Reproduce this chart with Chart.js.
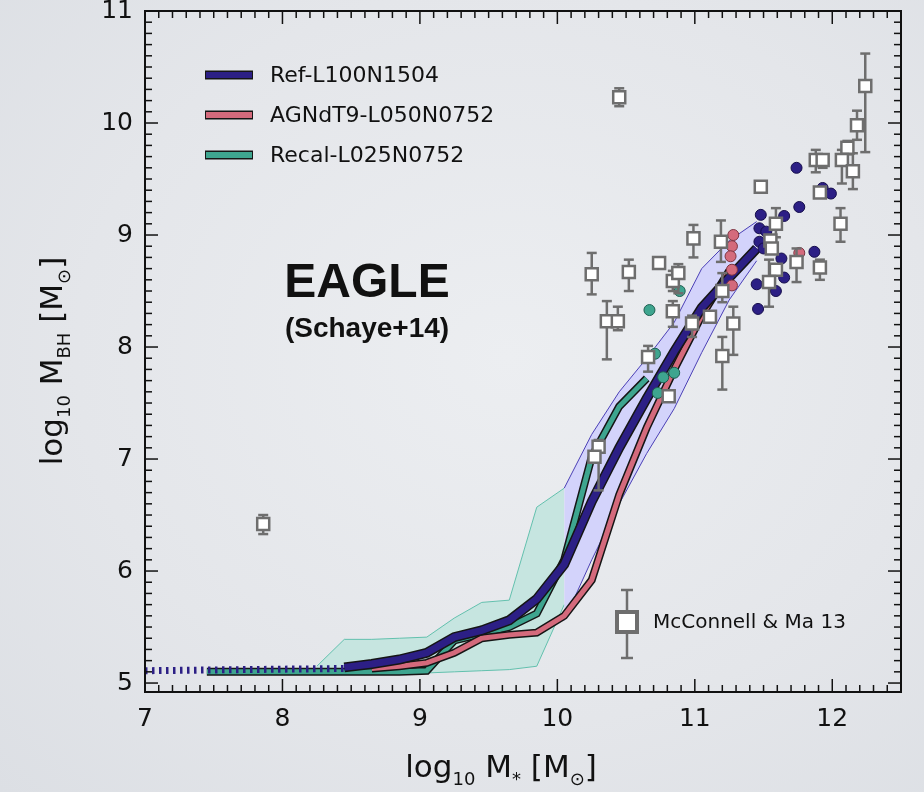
<!DOCTYPE html>
<html>
<head>
<meta charset="utf-8">
<script src="https://cdn.jsdelivr.net/npm/chart.js@4.4.1/dist/chart.umd.min.js"></script>
<style>
    html, body { margin: 0; padding: 0; }
    body { background: radial-gradient(ellipse at 55% 45%, #eceef1 0%, #e4e6ea 60%, #dcdfe4 100%); }
    #wrap { position: relative; width: 924px; height: 792px; }
</style>
</head>
<body>
<div id="wrap"><canvas id="chart" width="924" height="792"></canvas></div>
<script>
// Axis ticks
const xTicks = [7, 8, 9, 10, 11, 12];
const yTicks = [5, 6, 7, 8, 9, 10, 11];

// Ref-L100N1504 median
const refX = [8.45, 8.65, 8.85, 9.05, 9.25, 9.45, 9.65, 9.85, 10.05, 10.25, 10.45, 10.65, 10.85, 11.05, 11.25, 11.45];
const refY = [5.14, 5.17, 5.21, 5.27, 5.41, 5.47, 5.56, 5.75, 6.06, 6.62, 7.10, 7.54, 7.96, 8.35, 8.62, 8.88];
// dotted part below resolution
const refLowX = [7.0, 8.45];
const refLowY = [5.11, 5.13];
// Ref scatter band
const refBandX = [10.05, 10.25, 10.45, 10.65, 10.85, 11.05, 11.25, 11.45];
const refBandHi = [6.74, 7.22, 7.60, 7.90, 8.22, 8.70, 8.95, 9.12];
const refBandLo = [5.56, 6.10, 6.60, 7.05, 7.45, 7.95, 8.42, 8.77];

// AGNdT9-L050N0752 median
const agnX = [8.65, 8.85, 9.05, 9.25, 9.45, 9.65, 9.85, 10.05, 10.25, 10.45, 10.65, 10.85, 11.05, 11.25];
const agnY = [5.13, 5.15, 5.18, 5.27, 5.40, 5.43, 5.45, 5.60, 5.92, 6.68, 7.28, 7.80, 8.28, 8.68];

// Recal-L025N0752 median + band
const recalX = [7.45, 7.65, 7.85, 8.05, 8.25, 8.45, 8.65, 8.85, 9.05, 9.25, 9.45, 9.65, 9.85, 10.05, 10.25, 10.45, 10.65];
const recalY = [5.10, 5.10, 5.10, 5.10, 5.10, 5.10, 5.10, 5.10, 5.11, 5.38, 5.44, 5.50, 5.62, 6.10, 7.02, 7.47, 7.72];
const recalBandX = [8.25, 8.45, 8.65, 8.85, 9.05, 9.25, 9.45, 9.65, 9.85, 10.05];
const recalBandHi = [5.15, 5.39, 5.39, 5.40, 5.41, 5.58, 5.72, 5.74, 6.57, 6.74];
const recalBandLo = [5.12, 5.10, 5.09, 5.09, 5.09, 5.10, 5.11, 5.12, 5.15, 5.70];

// individual galaxies
const refDotX = [11.74, 11.93, 11.99, 11.76, 11.48, 11.65, 11.47, 11.52, 11.47, 11.50, 11.63, 11.87, 11.65, 11.45, 11.59, 11.46];
const refDotY = [9.60, 9.42, 9.37, 9.25, 9.18, 9.17, 9.06, 9.03, 8.94, 8.88, 8.79, 8.85, 8.62, 8.56, 8.50, 8.34];
const agnDotX = [11.28, 11.27, 11.26, 11.27, 11.27, 11.76];
const agnDotY = [9.00, 8.90, 8.81, 8.69, 8.55, 8.84];
const recalDotX = [10.89, 10.67, 10.71, 10.85, 10.73, 10.77];
const recalDotY = [8.50, 8.33, 7.94, 7.77, 7.59, 7.73];

// McConnell & Ma 13 (null = no error bar)
const mmX  = [10.45, 12.24, 12.18, 12.11, 11.88, 11.93, 12.07, 12.15, 11.91, 11.48, 12.06, 11.59, 10.99, 11.19, 11.55, 11.56, 10.25, 10.52, 10.74, 10.84, 10.88, 11.74, 11.91, 11.59, 11.54, 11.20, 10.36, 10.44, 10.84, 10.98, 11.11, 11.28, 11.20, 10.66, 10.81, 10.30, 10.27, 7.86];
const mmY  = [10.23, 10.33, 9.98, 9.78, 9.67, 9.67, 9.67, 9.57, 9.38, 9.43, 9.10, 9.10, 8.97, 8.94, 8.95, 8.88, 8.65, 8.67, 8.75, 8.59, 8.66, 8.76, 8.71, 8.69, 8.58, 8.50, 8.23, 8.23, 8.32, 8.21, 8.27, 8.21, 7.92, 7.91, 7.56, 7.11, 7.02, 6.42];
const mmLo = [10.15, 9.74, 9.85, 9.72, 9.56, 9.60, 9.46, 9.41, null, 9.38, 8.94, 8.98, 8.80, 8.76, null, null, 8.47, 8.50, null, 8.50, 8.48, 8.58, 8.60, null, 8.36, 8.40, 7.89, 8.15, 8.18, 8.09, null, 7.93, 7.62, 7.78, null, 6.72, null, 6.33];
const mmHi = [10.31, 10.62, 10.11, 9.84, 9.76, 9.72, 9.76, 9.73, null, 9.47, 9.24, 9.24, 9.09, 9.13, null, null, 8.84, 8.78, null, 8.68, 8.74, 8.88, 8.78, null, 8.78, 8.66, 8.41, 8.36, 8.41, 8.28, null, 8.36, 8.09, 8.01, null, 7.17, null, 6.50];

const NAVY = '#2c1f85';
const PINK = '#d46a7c';
const TEAL = '#3ea58f';
const GREY = '#6e6e6e';
const FONT = '"DejaVu Sans", "Noto Sans", sans-serif';

const pts = (xs, ys) => xs.map((x, i) => ({ x, y: ys[i] }));

const datasets = [];
function add(ds) {
    datasets.push(Object.assign({ pointRadius: 0, fill: false, borderJoinStyle: 'miter' }, ds));
    return datasets.length - 1;
}

// bands
const recalLoIdx = add({ data: pts(recalBandX, recalBandLo), borderColor: '#62c0ad', borderWidth: 1, order: 99 });
add({ data: pts(recalBandX, recalBandHi), borderColor: '#62c0ad', borderWidth: 1, backgroundColor: '#c6e5e0', fill: { target: recalLoIdx }, order: 100 });
const refLoIdx = add({ data: pts(refBandX, refBandLo), borderColor: '#4a3fb5', borderWidth: 1, order: 97 });
add({ data: pts(refBandX, refBandHi), borderColor: '#4a3fb5', borderWidth: 1, backgroundColor: '#d3d3fb', fill: { target: refLoIdx }, order: 98 });

// medians with black outline
add({ data: pts(recalX, recalY), borderColor: '#151515', borderWidth: 8, order: 95 });
add({ data: pts(recalX, recalY), borderColor: TEAL, borderWidth: 5, order: 94 });
add({ data: pts(agnX, agnY), borderColor: '#151515', borderWidth: 8, order: 93 });
add({ data: pts(agnX, agnY), borderColor: PINK, borderWidth: 5, order: 92 });
add({ data: pts(refX, refY), borderColor: '#151515', borderWidth: 10, order: 91 });
add({ data: pts(refX, refY), borderColor: NAVY, borderWidth: 7, order: 90 });
add({ data: pts(refLowX, refLowY), borderColor: NAVY, borderWidth: 7, borderDash: [2.5, 4.5], borderCapStyle: 'butt', order: 89 });

// galaxies
const dot = (xs, ys, fill, edge, order) => add({
    data: pts(xs, ys), showLine: false, pointStyle: 'circle', pointRadius: 5.5,
    backgroundColor: fill, borderColor: edge, pointBorderWidth: 1, order
});
dot(refDotX, refDotY, NAVY, '#140c4a', 20);
dot(agnDotX, agnDotY, PINK, '#7d3340', 19);
dot(recalDotX, recalDotY, TEAL, '#1e5e50', 18);
const SQ_IDX = add({
    data: pts(mmX, mmY), showLine: false, pointStyle: 'rect', pointRadius: 8.5,
    backgroundColor: '#ffffff', borderColor: GREY, pointBorderWidth: 2.5, order: 10
});

function hline(ctx, x1, y1, x2, y2) {
    ctx.beginPath(); ctx.moveTo(x1, y1); ctx.lineTo(x2, y2); ctx.stroke();
}

// error bars under squares
const errorBars = {
    id: 'errorBars',
    beforeDatasetDraw(chart, args) {
        if (args.index !== SQ_IDX) return;
        const { ctx, scales: { x, y } } = chart;
        ctx.save();
        ctx.strokeStyle = GREY;
        ctx.lineWidth = 2.5;
        mmX.forEach((v, i) => {
            if (mmLo[i] === null) return;
            const px = x.getPixelForValue(v);
            const top = y.getPixelForValue(mmHi[i]);
            const bot = y.getPixelForValue(mmLo[i]);
            hline(ctx, px, top, px, bot);
            hline(ctx, px - 5, top, px + 5, top);
            hline(ctx, px - 5, bot, px + 5, bot);
        });
        ctx.restore();
    }
};

// frame with inward ticks on all sides
const frame = {
    id: 'frame',
    afterDatasetsDraw(chart) {
        const { ctx, chartArea: a, scales: { x, y } } = chart;
        ctx.save();
        ctx.strokeStyle = '#111';
        ctx.lineWidth = 1.5;
        for (let i = 70; i <= 125; i++) {
            const px = x.getPixelForValue(i / 10);
            const len = i % 10 === 0 ? 13 : 7;
            hline(ctx, px, a.bottom, px, a.bottom - len);
            hline(ctx, px, a.top, px, a.top + len);
        }
        for (let i = 50; i <= 110; i++) {
            const py = y.getPixelForValue(i / 10);
            const len = i % 10 === 0 ? 13 : 7;
            hline(ctx, a.left, py, a.left + len, py);
            hline(ctx, a.right, py, a.right - len, py);
        }
        ctx.lineWidth = 2;
        ctx.strokeRect(a.left, a.top, a.right - a.left, a.bottom - a.top);
        ctx.restore();
    }
};

// text with subscripts
function drawParts(ctx, parts, big, small) {
    let w = 0;
    parts.forEach(([t, sub]) => {
        ctx.font = (sub ? small : big);
        w += ctx.measureText(t).width;
    });
    let cx = -w / 2;
    parts.forEach(([t, sub]) => {
        ctx.font = (sub ? small : big);
        ctx.fillText(t, cx, sub ? 8 : 0);
        cx += ctx.measureText(t).width;
    });
}

const labels = {
    id: 'labels',
    afterDraw(chart) {
        const { ctx } = chart;
        const big = '31px ' + FONT;
        const small = '18px ' + FONT;
        ctx.save();
        ctx.fillStyle = '#111';
        ctx.textBaseline = 'alphabetic';
        ctx.textAlign = 'left';

        // x title
        ctx.save();
        ctx.translate(501, 777);
        drawParts(ctx, [['log'], ['10', 1], [' M'], ['*', 1], [' [M'], ['\u2299', 1], [']']], big, small);
        ctx.restore();

        // y title
        ctx.save();
        ctx.translate(62, 361);
        ctx.rotate(-Math.PI / 2);
        drawParts(ctx, [['log'], ['10', 1], [' M'], ['BH', 1], [' [M'], ['\u2299', 1], [']']], big, small);
        ctx.restore();

        // EAGLE
        ctx.textAlign = 'center';
        ctx.font = 'bold 48px "Liberation Sans", Arial, sans-serif';
        ctx.fillText('EAGLE', 367, 297);
        ctx.font = 'bold 28px "Liberation Sans", Arial, sans-serif';
        ctx.fillText('(Schaye+14)', 367, 337);

        // legend
        const rows = [['Ref-L100N1504', NAVY, 75], ['AGNdT9-L050N0752', PINK, 115], ['Recal-L025N0752', TEAL, 155]];
        ctx.textAlign = 'left';
        ctx.textBaseline = 'middle';
        ctx.font = '22px ' + FONT;
        rows.forEach(([name, color, ry]) => {
            ctx.lineCap = 'butt';
            ctx.strokeStyle = '#151515';
            ctx.lineWidth = 9;
            hline(ctx, 205, ry, 253, ry);
            ctx.strokeStyle = color;
            ctx.lineWidth = 6;
            hline(ctx, 206, ry, 252, ry);
            ctx.fillText(name, 270, ry + 1);
        });

        // McConnell & Ma legend entry
        ctx.strokeStyle = GREY;
        ctx.lineWidth = 2.5;
        hline(ctx, 627, 590, 627, 658);
        hline(ctx, 621, 590, 633, 590);
        hline(ctx, 621, 658, 633, 658);
        ctx.fillStyle = '#ffffff';
        ctx.lineWidth = 4;
        ctx.fillRect(617, 612, 20, 20);
        ctx.strokeRect(617, 612, 20, 20);
        ctx.fillStyle = '#111';
        ctx.font = '20px ' + FONT;
        ctx.fillText('McConnell & Ma 13', 653, 623);
        ctx.restore();
    }
};

const tickFont = { family: FONT, size: 25, weight: 'normal' };

new Chart(document.getElementById('chart'), {
    type: 'line',
    data: { datasets },
    options: {
        responsive: false,
        animation: false,
        events: [],
        layout: { padding: { top: 10, right: 23, left: 0, bottom: 0 } },
        plugins: { legend: { display: false }, tooltip: { enabled: false } },
        scales: {
            x: {
                type: 'linear', min: 7, max: 12.5,
                grid: { display: false, drawTicks: false },
                border: { display: false },
                ticks: { font: tickFont, color: '#111', padding: 12, maxRotation: 0 },
                afterBuildTicks: s => { s.ticks = xTicks.map(v => ({ value: v })); },
                afterFit: s => { s.height = 100; s.paddingLeft = 0; s.paddingRight = 0; }
            },
            y: {
                type: 'linear', min: 4.92, max: 11,
                grid: { display: false, drawTicks: false },
                border: { display: false },
                ticks: { font: tickFont, color: '#111', padding: 12 },
                afterBuildTicks: s => { s.ticks = yTicks.map(v => ({ value: v })); },
                afterFit: s => { s.width = 145; s.paddingTop = 0; s.paddingBottom = 0; }
            }
        }
    },
    plugins: [errorBars, frame, labels]
});
</script>
</body>
</html>
